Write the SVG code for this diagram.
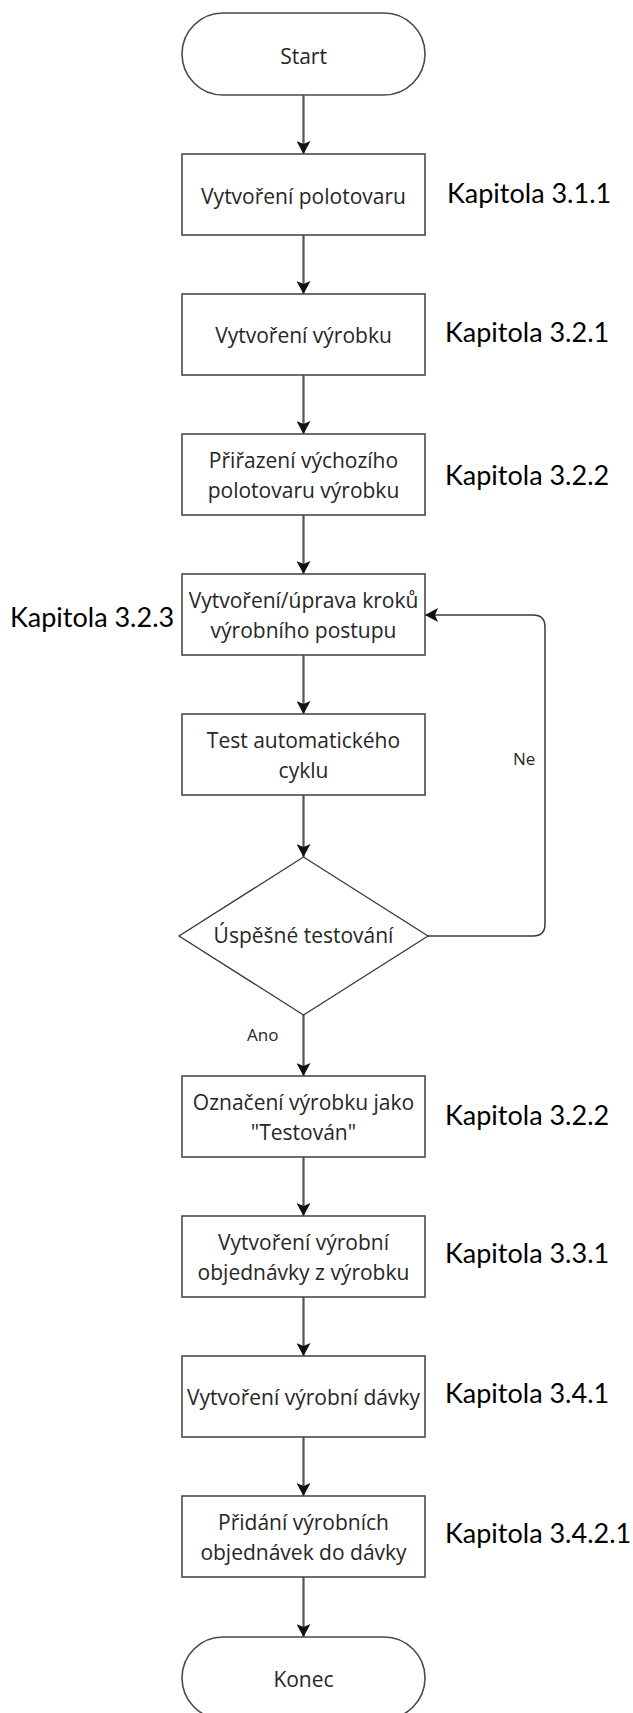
<svg xmlns="http://www.w3.org/2000/svg" width="633" height="1713" viewBox="0 0 633 1713">
<defs>
<style>
.shape{fill:#fff;stroke:#4a4a4a;stroke-width:1.6}
.dia{fill:#fff;stroke:#3a3a3a;stroke-width:1.3}
.t{font-family:"Open Sans","Noto Sans",sans-serif;font-size:21px;fill:#262626;text-anchor:middle}
.lbl{font-family:"Open Sans","Noto Sans",sans-serif;font-size:17px;fill:#262626}
.kap{font-family:Lato,"Open Sans",sans-serif;font-size:27px;fill:#000}
.c{fill:none;stroke:#555;stroke-width:2.2}
.loop{fill:none;stroke:#3a3a3a;stroke-width:1.5}
</style>
<marker id="ah" markerUnits="userSpaceOnUse" markerWidth="14" markerHeight="14" refX="13" refY="7" orient="auto" viewBox="0 0 14 14">
<path d="M0,0 L13,7 L0,14 L3,7 Z" fill="#111"/>
</marker>
</defs>
<rect width="633" height="1713" fill="#fff"/>
<g id="connectors">
<line class="c" x1="303.5" y1="95" x2="303.5" y2="154" marker-end="url(#ah)"/>
<line class="c" x1="303.5" y1="235" x2="303.5" y2="294" marker-end="url(#ah)"/>
<line class="c" x1="303.5" y1="375" x2="303.5" y2="434" marker-end="url(#ah)"/>
<line class="c" x1="303.5" y1="515" x2="303.5" y2="574" marker-end="url(#ah)"/>
<line class="c" x1="303.5" y1="655" x2="303.5" y2="714" marker-end="url(#ah)"/>
<line class="c" x1="303.5" y1="795" x2="303.5" y2="857" marker-end="url(#ah)"/>
<line class="c" x1="303.5" y1="1015" x2="303.5" y2="1076" marker-end="url(#ah)"/>
<line class="c" x1="303.5" y1="1157" x2="303.5" y2="1216" marker-end="url(#ah)"/>
<line class="c" x1="303.5" y1="1297" x2="303.5" y2="1356" marker-end="url(#ah)"/>
<line class="c" x1="303.5" y1="1437" x2="303.5" y2="1496" marker-end="url(#ah)"/>
<line class="c" x1="303.5" y1="1577" x2="303.5" y2="1637" marker-end="url(#ah)"/>
<path class="loop" d="M428,936 L533,936 Q545,936 545,924 L545,627 Q545,615 533,615 L425,615" marker-end="url(#ah)"/>
<text class="lbl" x="513" y="765">Ne</text>
<text class="lbl" x="247" y="1041">Ano</text>
</g>
<g id="start">
<rect class="shape" x="182" y="13" width="243" height="82" rx="41" ry="41"/>
<text class="t" x="303.5" y="64">Start</text>
</g>
<g id="n1">
<rect class="shape" x="182" y="154" width="243" height="81"/>
<text class="t" x="303.5" y="204">Vytvoření polotovaru</text>
</g>
<g id="n2">
<rect class="shape" x="182" y="294" width="243" height="81"/>
<text class="t" x="303.5" y="343">Vytvoření výrobku</text>
</g>
<g id="n3">
<rect class="shape" x="182" y="434" width="243" height="81"/>
<text class="t" x="303.5" y="468">Přiřazení výchozího</text>
<text class="t" x="303.5" y="498">polotovaru výrobku</text>
</g>
<g id="n4">
<rect class="shape" x="182" y="574" width="243" height="81"/>
<text class="t" x="303.5" y="608">Vytvoření/úprava kroků</text>
<text class="t" x="303.5" y="638">výrobního postupu</text>
</g>
<g id="n5">
<rect class="shape" x="182" y="714" width="243" height="81"/>
<text class="t" x="303.5" y="748">Test automatického</text>
<text class="t" x="303.5" y="778">cyklu</text>
</g>
<g id="d1">
<polygon class="dia" points="303.5,857 428,936 303.5,1015 179,936"/>
<text class="t" x="303.5" y="943">Úspěšné testování</text>
</g>
<g id="n6">
<rect class="shape" x="182" y="1076" width="243" height="81"/>
<text class="t" x="303.5" y="1110">Označení výrobku jako</text>
<text class="t" x="303.5" y="1140">"Testován"</text>
</g>
<g id="n7">
<rect class="shape" x="182" y="1216" width="243" height="81"/>
<text class="t" x="303.5" y="1250">Vytvoření výrobní</text>
<text class="t" x="303.5" y="1280">objednávky z výrobku</text>
</g>
<g id="n8">
<rect class="shape" x="182" y="1356" width="243" height="81"/>
<text class="t" x="303.5" y="1405">Vytvoření výrobní dávky</text>
</g>
<g id="n9">
<rect class="shape" x="182" y="1496" width="243" height="81"/>
<text class="t" x="303.5" y="1530">Přidání výrobních</text>
<text class="t" x="303.5" y="1560">objednávek do dávky</text>
</g>
<g id="end">
<rect class="shape" x="182" y="1637" width="243" height="82" rx="41" ry="41"/>
<text class="t" x="303.5" y="1687">Konec</text>
</g>
<g id="chapters">
<text class="kap" x="447" y="203">Kapitola 3.1.1</text>
<text class="kap" x="445" y="342">Kapitola 3.2.1</text>
<text class="kap" x="445" y="485">Kapitola 3.2.2</text>
<text class="kap" x="10" y="627">Kapitola 3.2.3</text>
<text class="kap" x="445" y="1125">Kapitola 3.2.2</text>
<text class="kap" x="445" y="1263">Kapitola 3.3.1</text>
<text class="kap" x="445" y="1403">Kapitola 3.4.1</text>
<text class="kap" x="445" y="1543">Kapitola 3.4.2.1</text>
</g>
</svg>
